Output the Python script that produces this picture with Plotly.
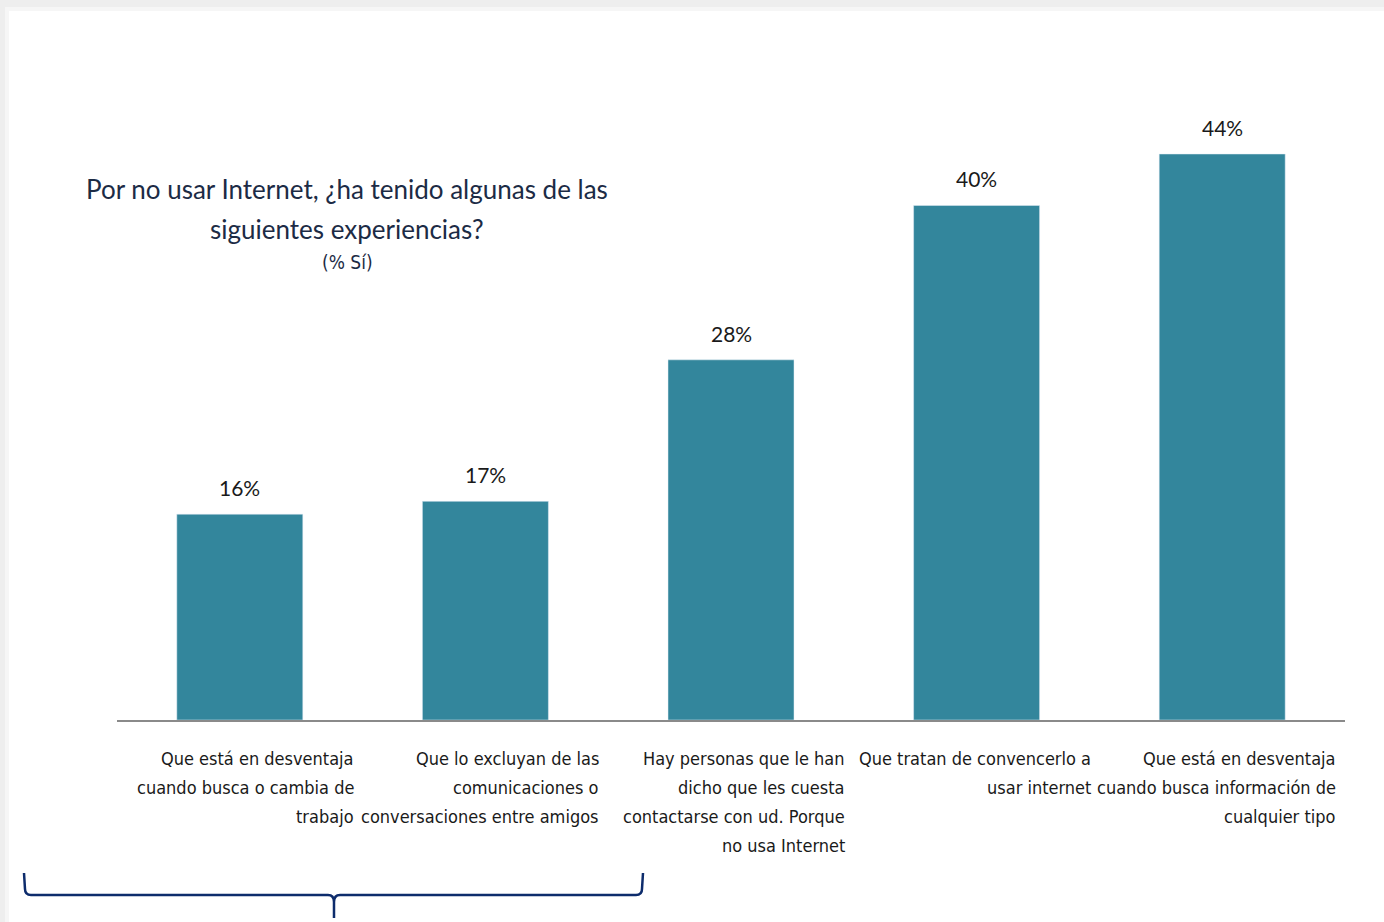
import plotly.graph_objects as go

# Survey results: share answering "Sí" for each experience
categories = [
    "Que está en desventaja<br>cuando busca o cambia de<br>trabajo",
    "Que lo excluyan de las<br>comunicaciones o<br>conversaciones entre amigos",
    "Hay personas que le han<br>dicho que les cuesta<br>contactarse con ud. Porque<br>no usa Internet",
    "Que tratan de convencerlo a<br>usar internet",
    "Que está en desventaja<br>cuando busca información de<br>cualquier tipo",
]
values = [16, 17, 28, 40, 44]

title_lines = ["Por no usar Internet, ¿ha tenido algunas de las", "siguientes experiencias?"]
subtitle = "(% Sí)"

W, H = 1384, 922
ML, MR, MT, MB = 117, 39, 100, 202
PW, PH = W - ML - MR, H - MT - MB

BAR = "#33869c"
NAVY = "#1c2b45"
BRACE = "#0d2c6c"
LABEL_FONT = "Liberation Sans Narrow, DejaVu Sans Condensed, Arial Narrow, sans-serif"
TITLE_FONT = "Lato, Open Sans, sans-serif"


def px(x):
    return (x - ML) / PW


def py(y):
    return (H - MB - y) / PH


xs = list(range(len(categories)))

fig = go.Figure(
    go.Bar(x=xs, y=values, marker_color=BAR, width=0.513, hoverinfo="skip")
)

# value labels above each bar
for i, v in zip(xs, values):
    fig.add_annotation(
        x=i, y=v, xref="x", yref="y", text=f"{v}%", showarrow=False,
        yanchor="bottom", yshift=12,
        font=dict(family=TITLE_FONT, size=21, color="#1a1a1a"),
    )

# right-aligned category labels below the axis, one line at a time
for i, c in zip(xs, categories):
    for k, line in enumerate(c.split("<br>")):
        fig.add_annotation(
            x=i, y=py(758 + 29 * k), xref="x", yref="paper", text=line,
            showarrow=False, xanchor="right", yanchor="middle", align="right",
            xshift=116,
            font=dict(family=LABEL_FONT, size=18, color="#1a1a1a"),
        )

# chart heading
for t, yy in zip(title_lines, [189, 229]):
    fig.add_annotation(
        x=px(347), y=py(yy), xref="paper", yref="paper", text=t, showarrow=False,
        xanchor="center", yanchor="middle",
        font=dict(family=TITLE_FONT, size=26, color=NAVY),
    )
fig.add_annotation(
    x=px(347), y=py(262), xref="paper", yref="paper", text=subtitle, showarrow=False,
    xanchor="center", yanchor="middle",
    font=dict(family=LABEL_FONT, size=19, color=NAVY),
)

# slide card with soft edge
shapes = [
    dict(type="rect", xref="paper", yref="paper", layer="below",
         x0=px(5), x1=px(W + 5), y0=py(7), y1=py(H + 5),
         fillcolor="#f6f6f6", line_width=0),
    dict(type="rect", xref="paper", yref="paper", layer="below",
         x0=px(9), x1=px(W + 5), y0=py(11), y1=py(H + 5),
         fillcolor="#ffffff", line_width=0),
]

# brace grouping the first two categories
pts = [
    ("M", [(24, 873)]), ("L", [(25, 889)]), ("Q", [(25, 895), (31, 895)]),
    ("L", [(328, 895)]), ("Q", [(334, 895), (334, 902)]), ("L", [(334, 918)]),
    ("M", [(334, 902)]), ("Q", [(334, 895), (340, 895)]), ("L", [(636, 895)]),
    ("Q", [(642, 895), (642, 889)]), ("L", [(643, 873)]),
]
path = " ".join(
    cmd + " " + " ".join(f"{px(a):.5f},{py(b):.5f}" for a, b in p) for cmd, p in pts
)
shapes.append(dict(type="path", xref="paper", yref="paper", path=path,
                   line=dict(color=BRACE, width=2.5)))

fig.update_layout(
    width=W, height=H,
    margin=dict(l=ML, r=MR, t=MT, b=MB),
    paper_bgcolor="#eeeeee", plot_bgcolor="rgba(0,0,0,0)",
    showlegend=False, shapes=shapes,
    xaxis=dict(range=[-0.5, 4.5], showticklabels=False, showgrid=False,
               zeroline=False, showline=True, linecolor="#8a8a8a", linewidth=1.5,
               ticks="", fixedrange=True),
    yaxis=dict(range=[0, PH / (566 / 44)], visible=False, showgrid=False,
               zeroline=False, fixedrange=True),
)

fig.write_html("out.html")
